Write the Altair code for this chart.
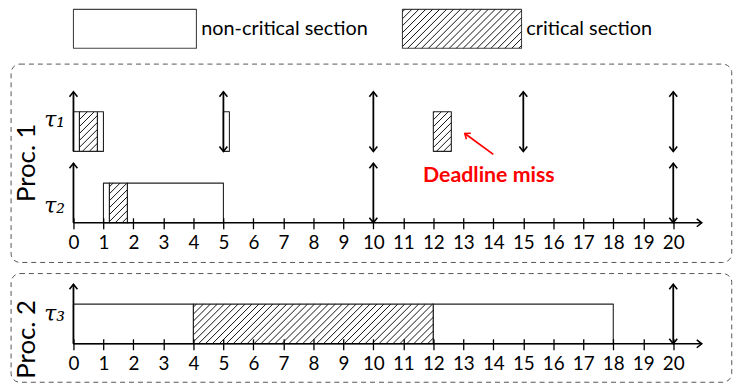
import altair as alt
import pandas as pd
import numpy as np

# ---------------- data ----------------
seg_task = ["t1", "t1", "t1", "t1", "t1", "t2", "t2", "t2", "t3", "t3", "t3"]
seg_start = [0.0, 0.2, 0.8, 5.0, 12.0, 1.0, 1.2, 1.8, 0.0, 4.0, 12.0]
seg_end = [0.2, 0.8, 1.0, 5.2, 12.6, 1.2, 1.8, 5.0, 4.0, 12.0, 18.0]
seg_kind = ["nc", "cs", "nc", "nc", "cs", "nc", "cs", "nc", "nc", "cs", "nc"]

rel_t1 = [0, 5, 10, 15, 20]
dl_t1 = [5, 10, 15, 20]
rel_t2 = [0, 10, 20]
dl_t2 = [10, 20]
rel_t3 = [0, 20]
dl_t3 = [20]

ticks = list(range(0, 21))
legend_labels = ["non-critical section", "critical section"]
legend_kinds = ["nc", "cs"]
task_labels = {"t1": "τ₁", "t2": "τ₂", "t3": "τ₃"}

# ---------------- layout ----------------
FONT = "Lato"
W = 635
XMAX = 21.0
SX = W / XMAX
PX = 40.0  # pixels per y unit
BASE = {"t1": 1.8, "t2": 0.0, "t3": 0.0}
TOP = {"t1": 3.3, "t2": 1.5, "t3": 1.5}
LABEL_Y = {"t1": 2.6, "t2": 0.43, "t3": 0.75}
H1 = 3.3
H2 = 1.5

XS = alt.Scale(domain=[0, XMAX], nice=False, zero=False)
YS1 = alt.Scale(domain=[0, H1], nice=False, zero=False)
YS2 = alt.Scale(domain=[0, H2], nice=False, zero=False)

XAX = alt.Axis(values=ticks, tickSize=11, offset=-5, domain=False, grid=False,
               labelFont=FONT, labelFontSize=19, labelColor="black",
               tickColor="black", tickWidth=1.3, labelPadding=5, title=None,
               labelFlush=False, labelOverlap=False, zindex=1)


def yaxis(tasks, title, title_y):
    vals = [LABEL_Y[t] for t in tasks]
    if len(tasks) == 1:
        expr = "'" + task_labels[tasks[0]] + "'"
    else:
        expr = "datum.value > 1.5 ? '%s' : '%s'" % (task_labels[tasks[0]], task_labels[tasks[1]])
    return alt.Axis(values=vals, labelExpr=expr, ticks=False, tickSize=0, domain=False,
                    grid=False, labelFont="DejaVu Serif", labelFontStyle="italic",
                    labelFontSize=22, labelPadding=9, labelAlign="right",
                    labelBaseline="middle", labelColor="black", labelFlush=False,
                    title=title, titleFont=FONT, titleFontSize=26, titleFontWeight="normal",
                    titleColor="black", titleX=-47, titleY=title_y, titleAngle=270,
                    titleAlign="center", titleBaseline="middle")


YAX1 = yaxis(["t1", "t2"], "Proc. 1", 71)
YAX2 = yaxis(["t3"], "Proc. 2", 55)


def ex(f):
    return alt.X(f, type="quantitative", scale=XS, axis=XAX)


def ey(f, ys, yax):
    return alt.Y(f, type="quantitative", scale=ys, axis=yax)


def hatch(x0, x1, y0, y1, d=7.0):
    X0, X1, Y0, Y1 = x0 * SX, x1 * SX, y0 * PX, y1 * PX
    rows = []
    b = np.floor((Y0 - X1) / d) * d
    while b < Y1 - X0:
        xa = max(X0, Y0 - b)
        xb = min(X1, Y1 - b)
        if xb > xa + 0.4:
            rows.append(dict(hx=xa / SX, hx2=xb / SX, hy=(xa + b) / PX, hy2=(xb + b) / PX))
        b += d
    return rows


segs = pd.DataFrame({"task": seg_task, "start": seg_start, "end": seg_end, "kind": seg_kind})
segs["y0"] = segs["task"].map(BASE)
segs["y1"] = segs["y0"] + 1.0

rels = {"t1": rel_t1, "t2": rel_t2, "t3": rel_t3}
dls = {"t1": dl_t1, "t2": dl_t2, "t3": dl_t3}


def arrows(tasks):
    rules, ups, downs = [], [], []
    for t in tasks:
        for v in sorted(set(rels[t]) | set(dls[t])):
            rules.append(dict(t=v, y0=BASE[t], y1=TOP[t]))
        for v in rels[t]:
            ups.append(dict(t=v, y=TOP[t]))
        for v in dls[t]:
            downs.append(dict(t=v, y=BASE[t]))
    return pd.DataFrame(rules), pd.DataFrame(ups), pd.DataFrame(downs)


UP = "M-0.8,1L0,0L0.8,1"
DOWN = "M-0.8,-1L0,0L0.8,-1"
RIGHT = "M-1,-0.8L0,0L-1,0.8"


def panel(tasks, ys, yax, height, box_y0, box_y1, extra=None):
    s = segs[segs["task"].isin(tasks)]
    hrows = []
    for _, r in s[s["kind"] == "cs"].iterrows():
        hrows += hatch(r["start"], r["end"], r["y0"], r["y1"])
    hd = pd.DataFrame(hrows)
    rules, ups, downs = arrows(tasks)

    box = alt.Chart(pd.DataFrame({"a": [-2.08], "b": [21.95], "c": [box_y0], "d": [box_y1]})).mark_rect(
        fill="transparent", stroke="#555555", strokeWidth=1, strokeDash=[5, 4], cornerRadius=9,
        strokeJoin="round"
    ).encode(x=ex("a"), x2="b", y=ey("c", ys, yax), y2="d")

    rects = alt.Chart(s).mark_rect(fill="white", stroke="#222222", strokeWidth=1.1,
                                   strokeJoin="round").encode(
        x=ex("start"), x2="end", y=ey("y0", ys, yax), y2="y1")
    hl = alt.Chart(hd).mark_rule(color="#111111", strokeWidth=1).encode(
        x=ex("hx"), x2="hx2", y=ey("hy", ys, yax), y2="hy2")
    ar = alt.Chart(rules).mark_rule(color="black", strokeWidth=1.8).encode(
        x=ex("t"), y=ey("y0", ys, yax), y2="y1")
    hu = alt.Chart(ups).mark_point(shape=UP, size=100, filled=False, color="black",
                                   strokeWidth=1.6, opacity=1).encode(x=ex("t"), y=ey("y", ys, yax))
    hdn = alt.Chart(downs).mark_point(shape=DOWN, size=100, filled=False, color="black",
                                      strokeWidth=1.6, opacity=1).encode(x=ex("t"), y=ey("y", ys, yax))
    axl = alt.Chart(pd.DataFrame({"a": [0.0], "b": [20.95], "y": [0.0]})).mark_rule(
        color="black", strokeWidth=1.6).encode(x=ex("a"), x2="b", y=ey("y", ys, yax))
    axh = alt.Chart(pd.DataFrame({"a": [20.95], "y": [0.0]})).mark_point(
        shape=RIGHT, size=100, filled=False, color="black", strokeWidth=1.6, opacity=1
    ).encode(x=ex("a"), y=ey("y", ys, yax))
    layers = [box]
    if extra is not None:
        layers += extra
    layers += [rects, hl, ar, hu, hdn, axl, axh]
    return alt.layer(*layers).properties(width=W, height=height * PX)


# ---- legend (in panel-1 coordinates) ----
LEG_Y0, LEG_Y1 = 4.4, 5.38
leg = pd.DataFrame({"kind": legend_kinds, "label": legend_labels,
                    "x0": [0.0, 10.97], "x1": [4.1, 14.94]})
leg["tx"] = leg["x1"] + 0.16
leg["y0"] = LEG_Y0
leg["y1"] = LEG_Y1
leg["ty"] = (LEG_Y0 + LEG_Y1) / 2
lh = []
for _, r in leg[leg["kind"] == "cs"].iterrows():
    lh += hatch(r["x0"], r["x1"], LEG_Y0, LEG_Y1)
lhd = pd.DataFrame(lh)

leg_rect = alt.Chart(leg).mark_rect(fill="white", stroke="#444444", strokeWidth=1.1,
                                    strokeJoin="round").encode(
    x=ex("x0"), x2="x1", y=ey("y0", YS1, YAX1), y2="y1")
leg_hatch = alt.Chart(lhd).mark_rule(color="#111111", strokeWidth=1).encode(
    x=ex("hx"), x2="hx2", y=ey("hy", YS1, YAX1), y2="hy2")
leg_text = alt.Chart(leg).mark_text(font=FONT, fontSize=20, align="left", baseline="middle",
                                    color="black").encode(
    x=ex("tx"), y=ey("ty", YS1, YAX1), text="label:N")

# ---- annotation ----
ann = pd.DataFrame({"a": [14.0], "b": [13.05], "c": [1.725], "d": [2.25],
                    "tx": [13.85], "ty": [1.175], "txt": ["Deadline miss"]})
ann_rule = alt.Chart(ann).mark_rule(color="red", strokeWidth=1.8).encode(
    x=ex("a"), x2="b", y=ey("c", YS1, YAX1), y2="d")
ann_head = alt.Chart(ann).mark_point(shape=UP, size=90, filled=False, color="red", strokeWidth=1.6,
                                     angle=306, opacity=1).encode(x=ex("b"), y=ey("d", YS1, YAX1))
ann_text = alt.Chart(ann).mark_text(font=FONT, fontSize=21.5, fontWeight="bold", color="red",
                                    align="center", baseline="middle").encode(
    x=ex("tx"), y=ey("ty", YS1, YAX1), text="txt:N")

p1 = panel(["t1", "t2"], YS1, YAX1, H1, -1.0, 4.0,
           extra=[leg_rect, leg_hatch, leg_text, ann_rule, ann_head, ann_text])
p2 = panel(["t3"], YS2, YAX2, H2, -0.97, 1.77)

chart = alt.vconcat(p1, p2, spacing=9).properties(
    padding={"left": 2, "top": -1, "right": 0, "bottom": 0}
).configure_view(stroke=None)

chart.save("out.html", embed_options={"renderer": "svg", "actions": False})
